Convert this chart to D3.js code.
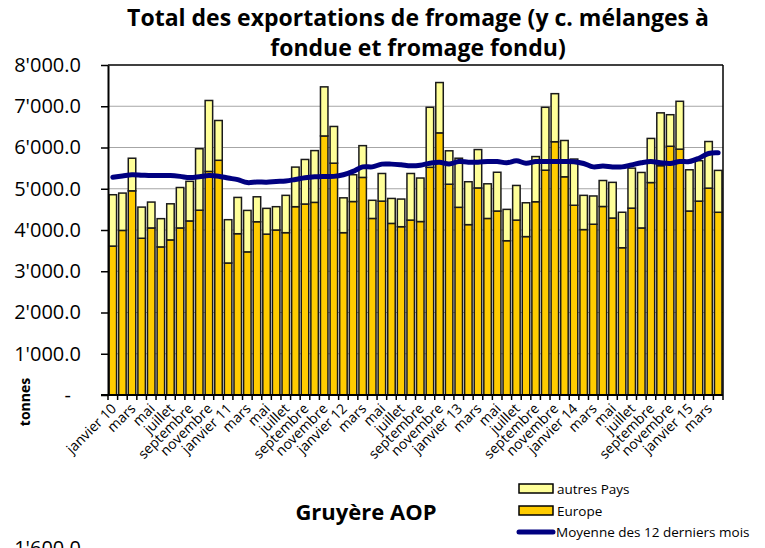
<!DOCTYPE html>
<html>
<head>
<meta charset="utf-8">
<script src="https://cdn.jsdelivr.net/npm/d3@7"></script>
<style>
  body { margin: 0; background: #fff; }
  svg { display: block; }
  text { font-family: "Open Sans", sans-serif; fill: #000; }
</style>
</head>
<body>
<svg id="chart" width="765" height="548"></svg>
<script>
// month names used for the category axis (one label every two months)
var monthNames = ['janvier','février','mars','avril','mai','juin','juillet','août','septembre','octobre','novembre','décembre'];
var years = ['10','11','12','13','14','15'];

// exports in tonnes, janvier 10 -> avril 15
var europe = [3610,3990,4950,3800,4050,3590,3760,4050,4220,4480,5420,5690,
              3200,3910,3470,4200,3900,4000,3935,4565,4630,4670,6280,5620,
              3935,4690,5275,4280,4700,4160,4080,4240,4205,5520,6355,5110,
              4550,4130,5020,4280,4460,3740,4240,3840,4685,5450,6140,5290,
              4600,4010,4140,4570,4290,3570,4530,4050,5150,5560,6030,5960,
              4460,4700,5015,4430];
var autresPays = [1245,905,790,755,627,685,875,980,960,1490,1720,965,
                  1050,880,1005,605,625,565,905,960,1080,1255,1190,890,
                  845,650,770,440,670,605,670,1130,1055,1455,1220,810,
                  1190,1040,930,840,940,760,840,820,1095,1525,1165,880,
                  1120,830,685,630,865,860,970,1345,1070,1280,765,1160,
                  1000,980,1130,1015];
var moyenne12 = [5280,5310,5340,5330,5320,5320,5320,5300,5270,5290,5320,5305,
                 5260,5220,5150,5165,5160,5177,5190,5226,5266,5290,5298,5300,
                 5340,5420,5530,5530,5597,5597,5580,5556,5570,5620,5645,5600,
                 5660,5645,5645,5660,5660,5630,5677,5620,5660,5660,5660,5660,
                 5655,5613,5530,5550,5530,5530,5580,5630,5660,5630,5613,5660,
                 5660,5740,5855,5870];
var yTicks = [0,1000,2000,3000,4000,5000,6000,7000,8000];

var categories = europe.map(function(d, i) {
  var m = i % 12;
  var y = Math.floor(i / 12);
  return m == 0 ? monthNames[m] + ' ' + years[y] : monthNames[m];
});

var svg = d3.select('#chart');
var plot = {left: 108, right: 723, top: 65, bottom: 395};

var x = d3.scaleBand()
  .domain(d3.range(categories.length))
  .range([plot.left, plot.right])
  .paddingInner(0.22)
  .paddingOuter(0.11);

var y = d3.scaleLinear()
  .domain([0, 8000])
  .range([plot.bottom, plot.top]);

var fmt = d3.formatLocale({decimal: '.', thousands: "'", grouping: [3], currency: ['', '']}).format(',.1f');

// title
svg.append('text')
  .attr('x', 418).attr('y', 26)
  .attr('text-anchor', 'middle')
  .style('font-weight', 'bold').style('font-size', '23px')
  .text('Total des exportations de fromage (y c. mélanges à');
svg.append('text')
  .attr('x', 418).attr('y', 56)
  .attr('text-anchor', 'middle')
  .style('font-weight', 'bold').style('font-size', '23px')
  .text('fondue et fromage fondu)');

// gridlines
svg.append('g')
  .selectAll('line')
  .data(yTicks.filter(function(d) { return d > 0 && d < 8000; }))
  .join('line')
  .attr('x1', plot.left).attr('x2', plot.right)
  .attr('y1', function(d) { return y(d); })
  .attr('y2', function(d) { return y(d); })
  .attr('stroke', '#a6a6a6').attr('stroke-width', 1);

// bars
var bars = svg.append('g').attr('stroke', '#1a1a1a').attr('stroke-width', 1.5);
bars.selectAll('rect.eu')
  .data(europe)
  .join('rect')
  .attr('class', 'eu')
  .attr('x', function(d, i) { return x(i); })
  .attr('width', x.bandwidth())
  .attr('y', function(d) { return y(d); })
  .attr('height', function(d) { return y(0) - y(d); })
  .attr('fill', '#ffcc00');
bars.selectAll('rect.ap')
  .data(autresPays)
  .join('rect')
  .attr('class', 'ap')
  .attr('x', function(d, i) { return x(i); })
  .attr('width', x.bandwidth())
  .attr('y', function(d, i) { return y(europe[i] + d); })
  .attr('height', function(d, i) { return y(europe[i]) - y(europe[i] + d); })
  .attr('fill', '#ffff99');

// 12 month average
var line = d3.line()
  .x(function(d, i) { return x(i) + x.bandwidth() / 2; })
  .y(function(d) { return y(d); })
  .curve(d3.curveCatmullRom);
svg.append('path')
  .datum(moyenne12)
  .attr('d', line)
  .attr('fill', 'none')
  .attr('stroke', '#000080')
  .attr('stroke-width', 5)
  .attr('stroke-linecap', 'round');

// frame
svg.append('line').attr('x1', plot.left).attr('x2', plot.right).attr('y1', plot.top).attr('y2', plot.top)
  .attr('stroke', '#000').attr('stroke-width', 1.5);
svg.append('line').attr('x1', plot.right).attr('x2', plot.right).attr('y1', plot.top).attr('y2', plot.bottom)
  .attr('stroke', '#000').attr('stroke-width', 1.5);

// y axis
var yAxis = svg.append('g')
  .attr('transform', 'translate(' + plot.left + ',0)')
  .call(d3.axisLeft(y).tickValues(yTicks).tickSize(7).tickSizeOuter(0).tickFormat(function(d) { return d == 0 ? '-' : fmt(d); }));
yAxis.select('.domain').attr('stroke', '#000').attr('stroke-width', 2);
yAxis.selectAll('.tick line').attr('stroke', '#000').attr('stroke-width', 1.5);
yAxis.selectAll('.tick text')
  .attr('x', function(d) { return d == 0 ? -37 : -27; })
  .style('font-size', '20px');

// x axis
var xAxis = svg.append('g')
  .attr('transform', 'translate(0,' + plot.bottom + ')');
xAxis.append('line')
  .attr('x1', plot.left - 7).attr('x2', plot.right)
  .attr('stroke', '#000').attr('stroke-width', 2);
xAxis.selectAll('line.tk')
  .data(d3.range(categories.length + 1))
  .join('line')
  .attr('class', 'tk')
  .attr('x1', function(d) { return plot.left + x.step() * d; })
  .attr('x2', function(d) { return plot.left + x.step() * d; })
  .attr('y1', 0).attr('y2', 5)
  .attr('stroke', '#000').attr('stroke-width', 1.5);
xAxis.selectAll('text')
  .data(categories.filter(function(d, i) { return i % 2 == 0; }))
  .join('text')
  .attr('transform', function(d, i) {
    var cx = x(i * 2) + x.bandwidth() / 2 + 1;
    return 'translate(' + cx + ',11) rotate(-45)';
  })
  .attr('text-anchor', 'end')
  .attr('dy', '0.35em')
  .style('font-size', '14px')
  .text(function(d) { return d; });

// y axis title
svg.append('text')
  .attr('transform', 'translate(30,402) rotate(-90)')
  .attr('text-anchor', 'middle')
  .style('font-weight', 'bold').style('font-size', '14px')
  .text('tonnes');

// subtitle
svg.append('text')
  .attr('x', 366).attr('y', 520)
  .attr('text-anchor', 'middle')
  .style('font-weight', 'bold').style('font-size', '22px')
  .text('Gruyère AOP');

// legend
var legend = svg.append('g').attr('transform', 'translate(519,484)');
legend.append('rect').attr('x', 0).attr('y', 0).attr('width', 34).attr('height', 9)
  .attr('fill', '#ffff99').attr('stroke', '#000').attr('stroke-width', 1.5);
legend.append('text').attr('x', 38).attr('y', 5).attr('dy', '0.35em').style('font-size', '13.5px').text('autres Pays');
legend.append('rect').attr('x', 0).attr('y', 22).attr('width', 34).attr('height', 9)
  .attr('fill', '#ffcc00').attr('stroke', '#000').attr('stroke-width', 1.5);
legend.append('text').attr('x', 38).attr('y', 27).attr('dy', '0.35em').style('font-size', '13.5px').text('Europe');
legend.append('line').attr('x1', 0).attr('x2', 34).attr('y1', 48).attr('y2', 48)
  .attr('stroke', '#000080').attr('stroke-width', 5).attr('stroke-linecap', 'round');
legend.append('text').attr('x', 37).attr('y', 48).attr('dy', '0.35em').style('font-size', '13.5px').text('Moyenne des 12 derniers mois');

// top of the next chart, cut by the page edge
svg.append('text')
  .attr('x', 81).attr('y', 555)
  .attr('text-anchor', 'end')
  .style('font-size', '20px')
  .text(fmt(1600));
</script>
</body>
</html>
